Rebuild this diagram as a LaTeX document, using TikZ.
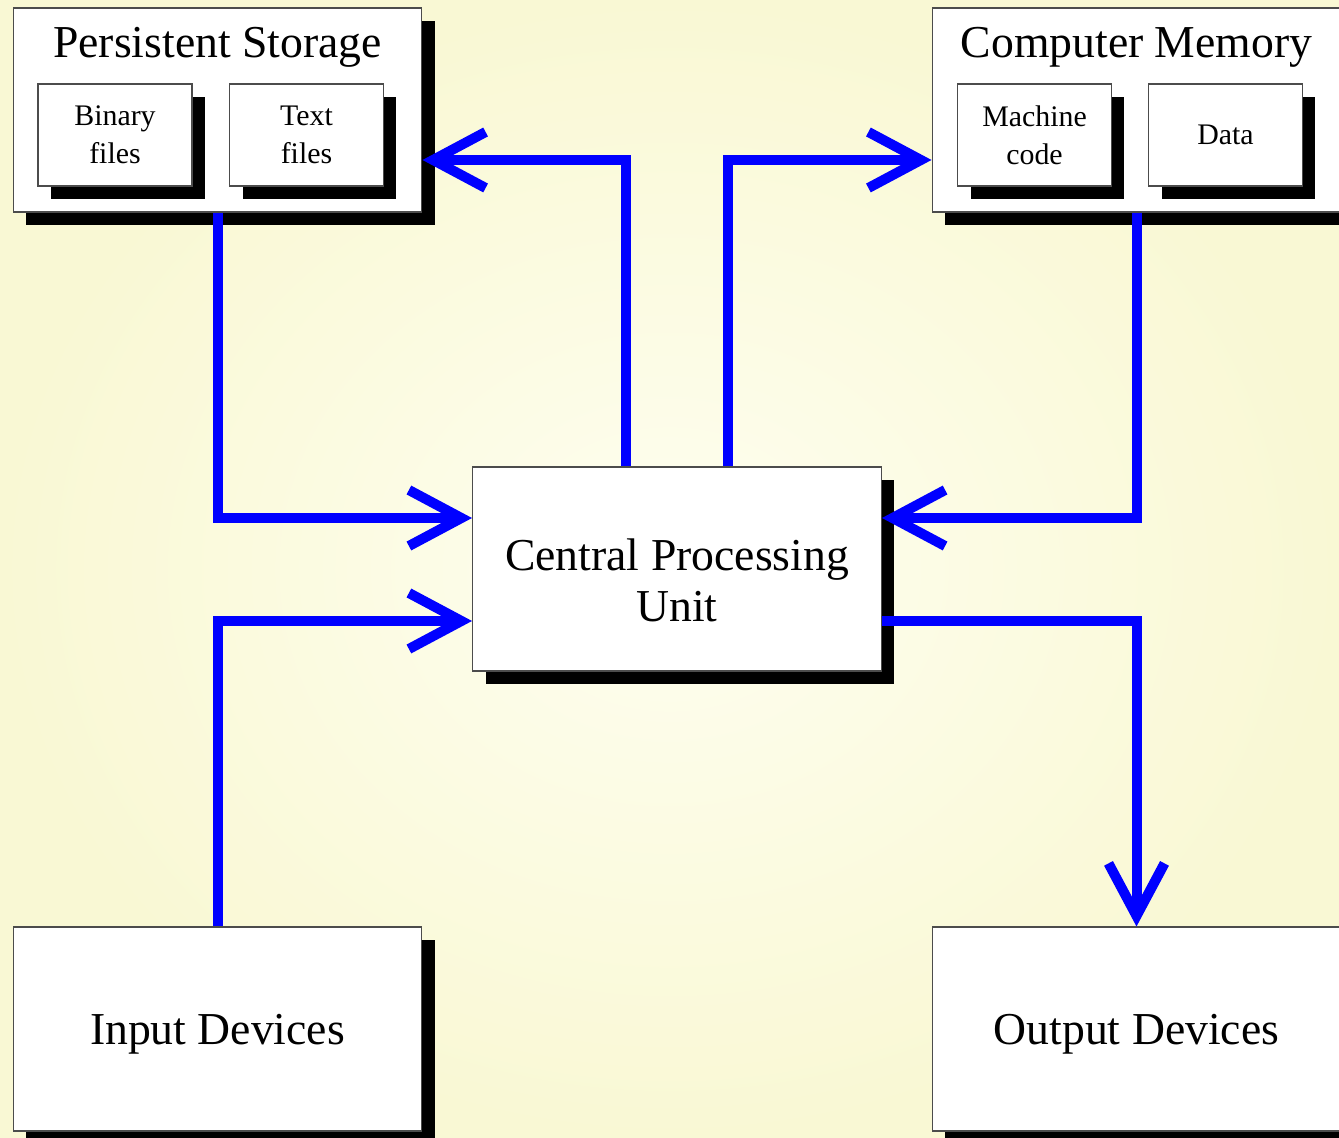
\documentclass[tikz,border=0pt]{standalone}
\usepackage{fontspec}
\setmainfont{Liberation Serif}
\usetikzlibrary{arrows.meta,positioning,shadows}
\definecolor{bgin}{RGB}{254,254,240}
\definecolor{bgout}{RGB}{249,248,212}
\definecolor{flow}{RGB}{0,0,255}

\begin{document}
\begin{tikzpicture}[x=0.02cm,y=-0.02cm,
  box/.style={rectangle,draw=black!70,line width=0.6pt,fill=white,
    drop shadow={shadow xshift=0.26cm,shadow yshift=-0.26cm,opacity=1,fill=black},
    minimum width=8.18cm,minimum height=4.08cm,inner sep=0pt,align=center,
    text depth=0pt,font=\fontsize{26}{29}\selectfont},
  part/.style={rectangle,draw=black!70,line width=0.6pt,fill=white,
    drop shadow={shadow xshift=0.26cm,shadow yshift=-0.26cm,opacity=1,fill=black},
    minimum width=3.08cm,minimum height=2.04cm,inner sep=0pt,align=center,
    font=\fontsize{17}{21.5}\selectfont},
  title/.style={inner sep=0pt,align=center,font=\fontsize{26}{29}\selectfont},
  flowline/.style={draw=flow,line width=0.2cm,line join=miter,
    -{Straight Barb[length=1.05cm,width=1.12cm]}}]

\clip (0,0) rectangle (1339,1138);
\shade[inner color=bgin,outer color=bgout] (0,0) rectangle (1339,1138);

% storage side
\node[box] (store) at (217.5,110) {};
\node[title] (storetitle) at (217.5,47) {Persistent Storage};
\node[part] (binfiles) at (115,135) {Binary\\files};
\node[part] (txtfiles) at (306.5,135) {Text\\files};

% memory side
\node[box] (mem) at (1136.5,110) {};
\node[title] (memtitle) at (1136.5,47) {Computer Memory};
\node[part] (mcode) at (1034.5,135) {Machine\\code};
\node[part] (mdata) at (1225.5,135) {Data};

% cpu and devices
\node[box] (cpu) at (677,569) {};
\node[title] (cputext) at (677,580) {Central Processing\\Unit};
\node[box] (inp) at (217.5,1029) {Input Devices};
\node[box] (outp) at (1136.5,1029) {Output Devices};

\draw[flowline] (store.south) |- ([yshift=1.02cm]cpu.west);
\draw[flowline] (inp.north) |- ([yshift=-1.04cm]cpu.west);
\draw[flowline] ([xshift=-1.02cm]cpu.north) |- ([yshift=-1cm]store.east);
\draw[flowline] ([xshift=1.02cm]cpu.north) |- ([yshift=-1cm]mem.west);
\draw[flowline] (mem.south) |- ([yshift=1.02cm]cpu.east);
\draw[flowline] ([yshift=-1.04cm]cpu.east) -| (outp.north);

\end{tikzpicture}
\end{document}
